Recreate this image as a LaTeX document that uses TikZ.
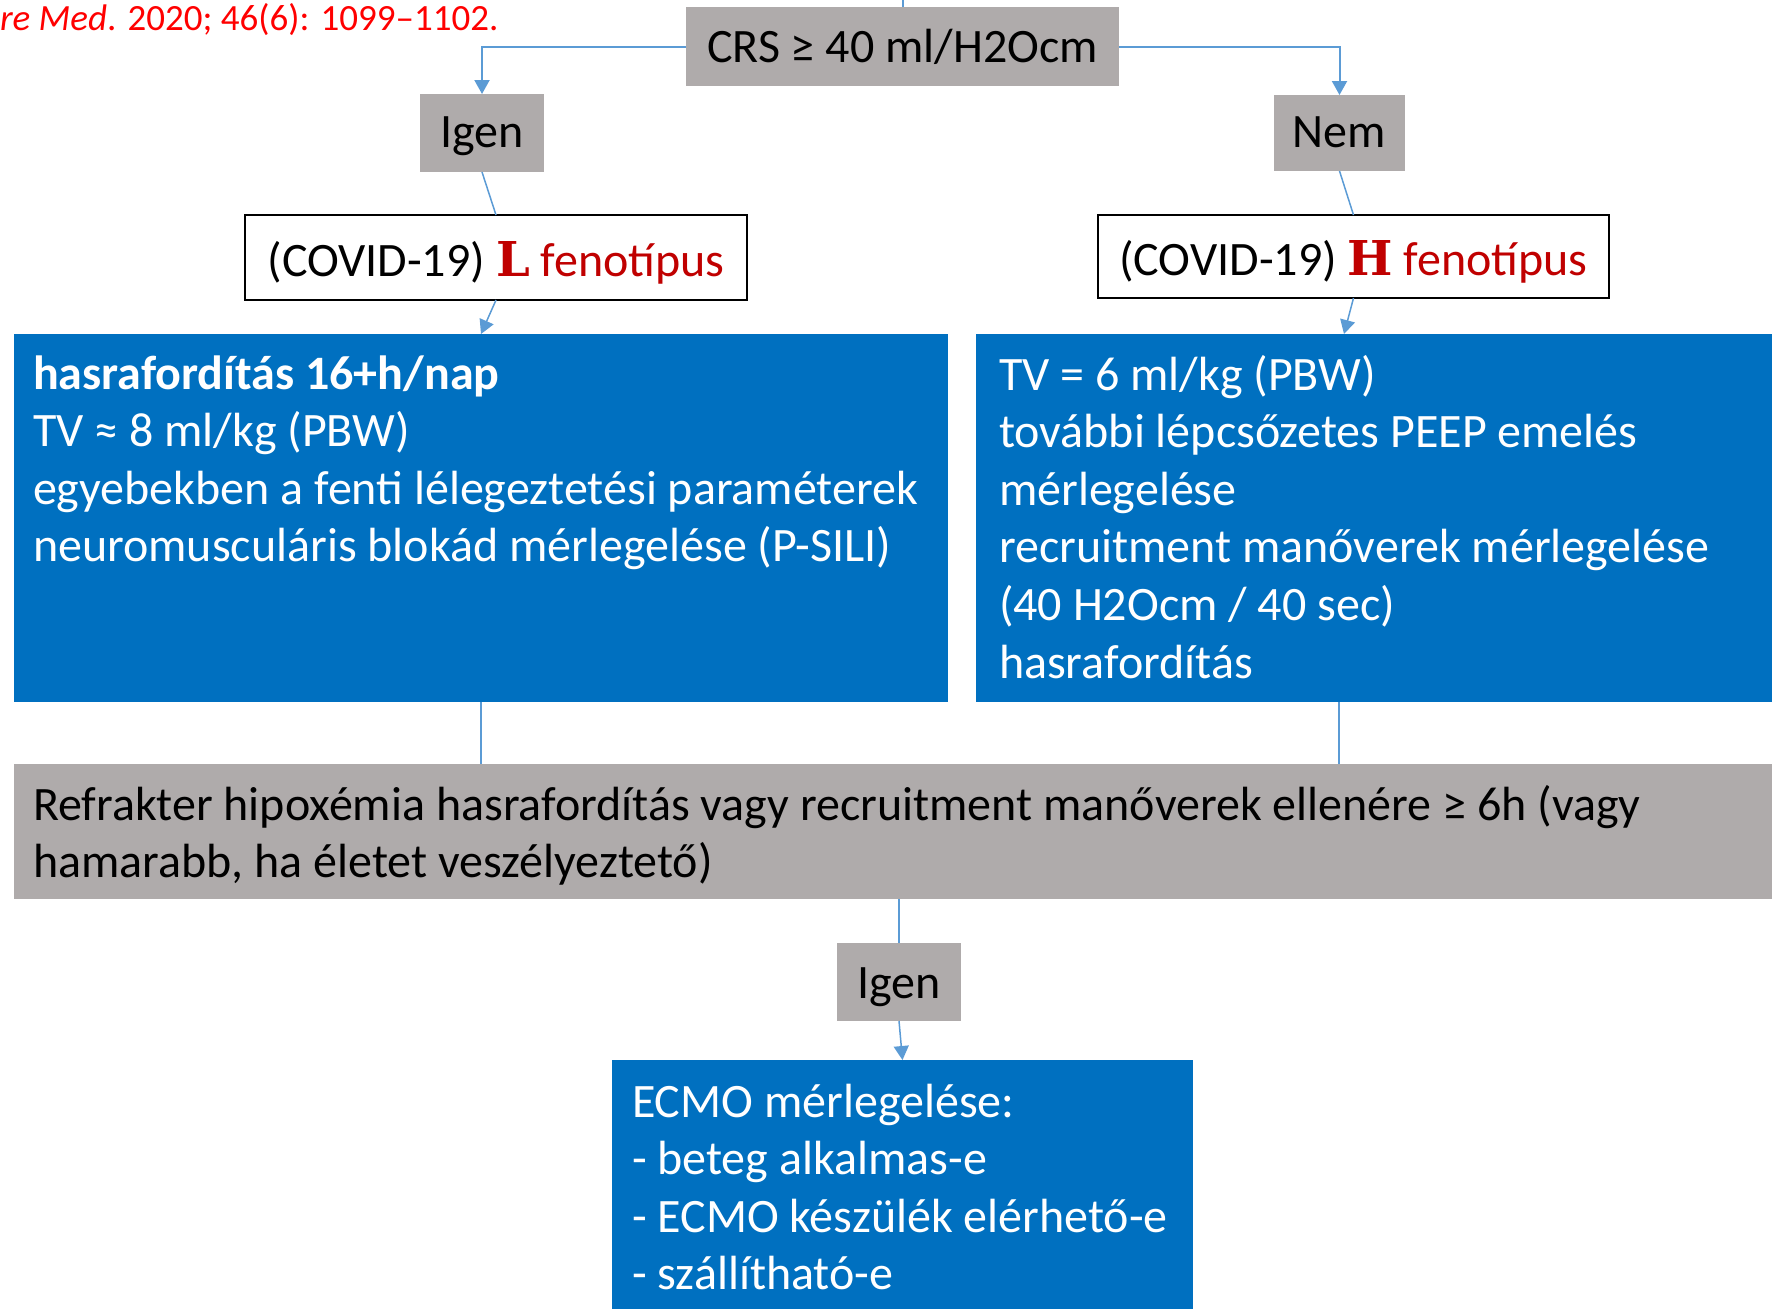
\documentclass[tikz,border=0pt]{standalone}
\usepackage{fontspec}
\setmainfont{Carlito}
\newfontfamily\slabfont{DejaVu Serif}
\usetikzlibrary{arrows.meta}
\definecolor{boxgray}{HTML}{AFABAB}
\definecolor{boxblue}{HTML}{0070C0}
\definecolor{linkblue}{HTML}{5B9BD5}
\definecolor{phenored}{HTML}{C00000}
\definecolor{citered}{HTML}{FF0000}
\newcommand{\phenoletter}[1]{{\slabfont\bfseries\color{phenored}#1}}
% keep the font's own word spacing inside left-aligned blocks
\newcommand{\natspaces}{\spaceskip=0pt\xspaceskip=0pt\relax}
\begin{document}
\begin{tikzpicture}[x=0.5pt,y=-0.5pt,
  every node/.style={inner sep=0pt, outer sep=0pt},
  body/.style={font=\fontsize{24}{28.8}\selectfont},
  tag/.style={fill=boxgray, body, text depth=0pt},
  phenobox/.style={fill=white, draw=black, line width=1pt, body, text depth=0pt},
  panel/.style={fill=boxblue},
  greypanel/.style={fill=boxgray},
  paneltext/.style={body, text=white, align=left, anchor=base west},
  link/.style={draw=linkblue, line width=0.75pt},
  arrowlink/.style={link, -{Triangle[length=7pt,width=7.5pt]}}
]
\useasboundingbox (0,0) rectangle (1772,1308);
\clip (0,0) rectangle (1772,1308);

% source line, partly cut at the left edge
\node[anchor=base west, font=\fontsize{18.5}{22}\selectfont, text=citered] (cite) at (0,30)
  {\textit{re Med}. 2020; 46(6): 1099–1102.};

% decision and answer boxes
\node[tag, minimum width=216.5pt, minimum height=39.5pt, text height=15.5pt] (crs) at (902.5,46.5) {CRS ≥ 40 ml/H2Ocm};
\node[tag, minimum width=62pt, minimum height=39pt, text height=14pt] (igenL) at (482,133) {Igen};
\node[tag, minimum width=65.5pt, minimum height=38pt, text height=14pt] (nem) at (1339.5,133) {Nem};

% phenotype boxes
\node[phenobox, minimum width=251pt, minimum height=42.5pt, text height=19pt] (lpheno) at (496,257.5)
  {(COVID-19) \phenoletter{L} {\color{phenored}fenotípus}};
\node[phenobox, minimum width=255.5pt, minimum height=41.5pt, text height=19pt] (hpheno) at (1353.5,256.5)
  {(COVID-19) \phenoletter{H} {\color{phenored}fenotípus}};

% treatment panels
\node[panel, anchor=north west, minimum width=467pt, minimum height=184pt] (left) at (14,334) {};
\node[panel, anchor=north west, minimum width=410pt, minimum height=184pt] (right) at (976,334) {};
\node[paneltext, text width=520pt] (lefttext) at (33,389)
  {\natspaces\textbf{hasrafordítás 16+h/nap}\\
   TV ≈ 8 ml/kg (PBW)\\
   egyebekben a fenti lélegeztetési paraméterek\\
   neuromusculáris blokád mérlegelése (P-SILI)};
\node[paneltext, text width=420pt] (righttext) at (999,390)
  {\natspaces TV = 6 ml/kg (PBW)\\
   további lépcsőzetes PEEP emelés\\
   mérlegelése\\
   recruitment manőverek mérlegelése\\
   (40 H2Ocm / 40 sec)\\
   hasrafordítás};

% refractory hypoxaemia bar
\node[greypanel, anchor=north west, minimum width=890pt, minimum height=67.5pt] (refr) at (14,764) {};
\node[paneltext, text=black, text width=880pt] (refrtext) at (33,820)
  {\natspaces Refrakter hipoxémia hasrafordítás vagy recruitment manőverek ellenére ≥ 6h (vagy\\
   hamarabb, ha életet veszélyeztető)};

\node[tag, minimum width=62pt, minimum height=39pt, text height=16pt] (igenB) at (899,982) {Igen};

% ECMO panel
\node[panel, anchor=north west, minimum width=290.5pt, minimum height=140pt] (ecmo) at (612,1060) {};
\node[paneltext, text width=280pt] (ecmotext) at (632,1117)
  {\natspaces ECMO mérlegelése:\\
   - beteg alkalmas-e\\
   - ECMO készülék elérhető-e\\
   - szállítható-e};

% connectors
\coordinate (feed) at (902.5,0);
\coordinate (rightin) at ([xshift=184pt]right.north west);
\coordinate (rightout) at ([xshift=181.5pt]right.south west);
\draw[link, line width=1pt] (feed) -- (crs.north);
\draw[arrowlink, line width=1pt] (crs.west) -| (igenL.north);
\draw[arrowlink, line width=1pt] (crs.east) -| (nem.north);
\draw[link] (igenL.south) -- (lpheno.north);
\draw[arrowlink] (lpheno.south) -- (left.north);
\draw[link] (nem.south) -- (hpheno.north);
\draw[arrowlink] (hpheno.south) -- (rightin);
\draw[link] (left.south) -- (left.south |- refr.north);
\draw[link] (rightout) -- (rightout |- refr.north);
\draw[link] (igenB.north |- refr.south) -- (igenB.north);
\draw[arrowlink] (igenB.south) -- (ecmo.north);
\end{tikzpicture}
\end{document}
